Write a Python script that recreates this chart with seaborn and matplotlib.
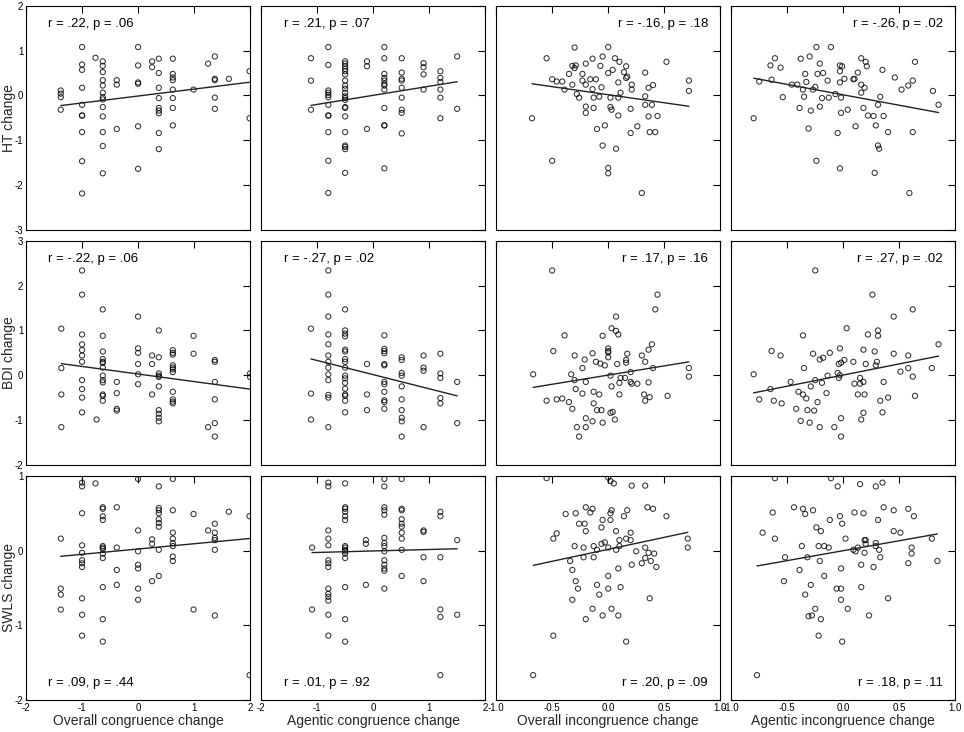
import matplotlib
matplotlib.use("Agg")
import matplotlib.pyplot as plt
import matplotlib.ticker as mticker
import pandas as pd
import seaborn as sns

row_labels = ["HT change", "BDI change", "SWLS change"]
col_labels = ["Overall congruence change", "Agentic congruence change",
              "Overall incongruence change", "Agentic incongruence change"]
stat_labels = [
    ["r = .22, p = .06", "r = .21, p = .07", "r = -.16, p = .18", "r = -.26, p = .02"],
    ["r = -.22, p = .06", "r = -.27, p = .02", "r = .17, p = .16", "r = .27, p = .02"],
    ["r = .09, p = .44", "r = .01, p = .92", "r = .20, p = .09", "r = .18, p = .11"],
]
row_ylims = [(-3, 2), (-2, 3), (-2, 1)]
row_yticks = [[-3, -2, -1, 0, 1, 2], [-2, -1, 0, 1, 2, 3], [-2, -1, 0, 1]]
col_xlims = [(-2, 2), (-2, 2), (-1, 1), (-1, 1)]
col_xticks = [[-2, -1, 0, 1, 2], [-2, -1, 0, 1, 2],
              [-1, -0.5, 0, 0.5, 1], [-1, -0.5, 0, 0.5, 1]]

# ---- HT change ----
ht_oc_x = [-1.38, -1.38, -1.38, -1.38,
           -1.0, -1.0, -1.0, -1.0, -1.0, -1.0, -1.0, -1.0, -1.0, -1.0,
           -0.76,
           -0.63, -0.63, -0.63, -0.63, -0.63, -0.63, -0.63, -0.63, -0.63, -0.63, -0.63, -0.63, -0.63,
           -0.38, -0.38, -0.38,
           0.0, 0.0, 0.0, 0.0, 0.0, 0.0,
           0.25, 0.25,
           0.37, 0.37, 0.37, 0.37, 0.37, 0.37, 0.37, 0.37, 0.37,
           0.62, 0.62, 0.62, 0.62, 0.62, 0.62, 0.62, 0.62,
           0.99, 1.25,
           1.37, 1.37, 1.37, 1.37, 1.37,
           1.62,
           1.99, 1.99]
ht_oc_y = [0.11, 0.04, -0.04, -0.32,
           1.08, 0.69, 0.57, 0.17, -0.21, -0.45, -0.45, -0.82, -1.47, -2.19,
           0.84,
           0.76, 0.66, 0.52, 0.34, 0.22, 0.06, -0.04, -0.09, -0.26, -0.47, -0.82, -1.13, -1.74,
           0.34, 0.24, -0.75,
           1.08, 0.67, 0.29, 0.26, -0.69, -1.64,
           0.76, 0.63,
           0.82, 0.50, 0.17, -0.06, -0.28, -0.34, -0.40, -0.84, -1.20,
           0.82, 0.48, 0.40, 0.34, 0.13, -0.06, -0.28, -0.67,
           0.13, 0.71,
           0.87, 0.37, 0.34, -0.05, -0.30,
           0.37,
           0.54, -0.51]

ht_ac_x = [-1.11, -1.11, -1.11,
           -0.8, -0.8, -0.8, -0.8, -0.8, -0.8, -0.8, -0.8, -0.8, -0.8, -0.8, -0.8,
           -0.5, -0.5, -0.5, -0.5, -0.5, -0.5, -0.5, -0.5, -0.5, -0.5, -0.5,
           -0.5, -0.5, -0.5, -0.5, -0.5, -0.5, -0.5, -0.5, -0.5, -0.5,
           -0.11, -0.11, -0.11,
           0.2, 0.2, 0.2, 0.2, 0.2, 0.2, 0.2, 0.2, 0.2, 0.2, 0.2, 0.2,
           0.51, 0.51, 0.51, 0.51, 0.51, 0.51, 0.51, 0.51, 0.51,
           0.9, 0.9, 0.9, 0.9,
           1.2, 1.2, 1.2, 1.2, 1.2, 1.2,
           1.5, 1.5]
ht_ac_y = [0.83, 0.33, -0.32,
           1.08, 0.68, 0.11, 0.06, 0.01, -0.04, -0.21, -0.45, -0.45, -0.82, -1.46, -2.18,
           0.76, 0.71, 0.65, 0.59, 0.54, 0.47, 0.33, 0.22, 0.15, 0.06, -0.02,
           -0.06, -0.10, -0.26, -0.28, -0.47, -0.82, -1.12, -1.15, -1.20, -1.73,
           0.76, 0.65, -0.75,
           1.08, 0.83, 0.48, 0.39, 0.33, 0.26, 0.22, 0.13, -0.28, -0.67, -0.67, -1.63,
           0.83, 0.51, 0.37, 0.33, 0.17, -0.05, -0.32, -0.39, -0.85,
           0.72, 0.63, 0.47, 0.13,
           0.54, 0.39, 0.30, 0.13, -0.05, -0.51,
           0.87, -0.30]

ht_oi_x = [-0.68, -0.55, -0.50, -0.50, -0.46, -0.41, -0.39, -0.35, -0.32, -0.32,
           -0.30, -0.29, -0.30, -0.28, -0.26, -0.23, -0.23, -0.20, -0.20, -0.20,
           -0.20, -0.16, -0.14, -0.14, -0.13, -0.13, -0.11, -0.10, -0.08, -0.07,
           -0.06, -0.05, -0.05, -0.03, 0.00, 0.00, 0.00, 0.00, 0.02, 0.02,
           0.03, 0.04, 0.06, 0.07, 0.09, 0.09, 0.09, 0.10, 0.11, 0.14,
           0.16, 0.16, 0.17, 0.20, 0.20, 0.21, 0.21, 0.26, 0.33, 0.33,
           0.33, 0.36, 0.36, 0.37, 0.39, 0.40, 0.42, 0.44, 0.52, 0.72,
           0.72, 0.30]
ht_oi_y = [-0.51, 0.83, 0.36, -1.46, 0.31, 0.31, 0.13, 0.48, 0.66, 0.24,
           1.07, 0.67, 0.61, 0.03, -0.05, 0.48, 0.33, -0.25, -0.39, 0.71,
           0.24, 0.36, 0.82, 0.14, -0.05, -0.28, 0.36, -0.75, -0.03, 0.66,
           0.18, 0.87, -1.12, -0.67, 1.08, 0.50, -1.62, -1.74, -0.05, -0.26,
           -0.32, 0.57, 0.83, -1.19, 0.29, -0.45, -0.05, 0.75, 0.06, 0.52,
           0.65, 0.39, 0.42, -0.30, -0.84, 0.13, 0.24, -0.69, 0.51, -0.02,
           -0.21, -0.47, 0.17, -0.82, -0.21, 0.23, -0.82, -0.46, 0.75, 0.33,
           0.10, -2.18]

ht_ai_x = [-0.80, -0.75, -0.65, -0.64, -0.61, -0.56, -0.54, -0.46, -0.41, -0.39,
           -0.38, -0.36, -0.35, -0.34, -0.33, -0.31, -0.30, -0.29, -0.27, -0.25,
           -0.24, -0.24, -0.23, -0.21, -0.21, -0.19, -0.18, -0.14, -0.13, -0.11,
           -0.07, -0.05, -0.03, -0.03, -0.03, -0.03, -0.02, -0.02, -0.01, 0.01,
           0.04, 0.09, 0.10, 0.11, 0.13, 0.16, 0.16, 0.16, 0.18, 0.19,
           0.20, 0.21, 0.22, 0.27, 0.28, 0.29, 0.31, 0.31, 0.32, 0.33,
           0.35, 0.36, 0.40, 0.46, 0.52, 0.58, 0.59, 0.62, 0.62, 0.64,
           0.80, 0.85]
ht_ai_y = [-0.51, 0.31, 0.67, 0.35, 0.83, 0.62, -0.04, 0.24, 0.24, -0.28,
           0.82, 0.13, -0.03, 0.48, 0.30, -0.74, 0.87, -0.34, 0.13, 0.19,
           1.08, -1.46, 0.48, 0.71, -0.25, -0.06, 0.50, 0.33, -0.05, 1.08,
           0.03, -0.84, 0.29, 0.67, 0.54, -1.63, -0.39, -0.05, 0.65, 0.37,
           -0.32, 0.36, 0.37, -0.69, 0.51, 0.24, 0.06, 0.83, -0.28, 0.17,
           0.75, 0.65, -0.45, -0.46, -1.73, -0.67, -0.21, -1.12, -1.19, -0.03,
           0.57, -0.46, -0.82, 0.40, 0.13, 0.22, -2.18, 0.33, -0.82, 0.75,
           0.10, -0.21]

# ---- BDI change ----
bdi_oc_x = [-1.37, -1.37, -1.37, -1.37,
            -1.0, -1.0, -1.0, -1.0, -1.0, -1.0, -1.0, -1.0, -1.0, -1.0, -1.0,
            -0.74,
            -0.63, -0.63, -0.63, -0.63, -0.63, -0.63, -0.63, -0.63, -0.63, -0.63, -0.63, -0.63, -0.63,
            -0.38, -0.38, -0.38, -0.38,
            0.0, 0.0, 0.0, 0.0, 0.0, 0.0,
            0.25, 0.25, 0.25,
            0.37, 0.37, 0.37, 0.37, 0.37, 0.37, 0.37, 0.37, 0.37, 0.37,
            0.62, 0.62, 0.62, 0.62, 0.62, 0.62, 0.62, 0.62, 0.62, 0.62, 0.62,
            0.99, 0.99,
            1.25,
            1.37, 1.37, 1.37, 1.37, 1.37, 1.37,
            2.0, 2.0]
bdi_oc_y = [1.04, 0.16, -0.43, -1.16,
            2.34, 1.80, 0.91, 0.69, 0.56, 0.44, 0.30, -0.11, -0.31, -0.50, -0.83,
            -0.99,
            1.47, 0.88, 0.53, 0.36, 0.30, 0.28, 0.17, -0.01, -0.11, -0.16, -0.43, -0.46, -0.57,
            -0.15, -0.40, -0.75, -0.79,
            1.31, 0.60, 0.50, 0.25, 0.02, -0.20,
            0.44, 0.25, -0.43,
            1.00, 0.40, 0.04, -0.01, -0.04, -0.25, -0.78, -0.86, -0.95, -1.03,
            0.56, 0.50, 0.46, 0.22, 0.17, 0.13, 0.07, -0.37, -0.54, -0.59, -0.63,
            0.88, 0.48,
            -1.16,
            0.34, 0.30, -0.15, -0.54, -1.07, -1.37,
            0.04, -0.04]

bdi_ac_x = [-1.11, -1.11, -1.11,
            -0.8, -0.8, -0.8, -0.8, -0.8, -0.8, -0.8, -0.8, -0.8, -0.8, -0.8, -0.8, -0.8,
            -0.5, -0.5, -0.5, -0.5, -0.5, -0.5, -0.5, -0.5, -0.5,
            -0.5, -0.5, -0.5, -0.5, -0.5, -0.5, -0.5, -0.5,
            -0.11, -0.11, -0.11,
            0.2, 0.2, 0.2, 0.2, 0.2, 0.2, 0.2, 0.2, 0.2, 0.2, 0.2, 0.2,
            0.51, 0.51, 0.51, 0.51, 0.51, 0.51, 0.51, 0.51, 0.51, 0.51,
            0.9, 0.9, 0.9, 0.9,
            1.2, 1.2, 1.2, 1.2, 1.2,
            1.5, 1.5]
bdi_ac_y = [1.04, -0.41, -0.99,
            2.34, 1.80, 1.31, 0.91, 0.69, 0.44, 0.30, 0.17, 0.02, -0.11, -0.44, -0.50, -1.16,
            1.47, 1.00, 0.93, 0.87, 0.57, 0.53, 0.36, 0.30, 0.17,
            -0.01, -0.07, -0.17, -0.30, -0.43, -0.46, -0.57, -0.83,
            0.25, -0.43, -0.78,
            0.89, 0.59, 0.54, 0.49, 0.25, 0.22, -0.15, -0.20, -0.37, -0.56, -0.60, -0.75,
            0.40, 0.34, 0.05, -0.01, -0.25, -0.54, -0.78, -0.95, -1.03, -1.37,
            0.44, 0.17, 0.10, -1.16,
            0.48, 0.04, -0.06, -0.51, -0.63,
            -0.15, -1.07]

bdi_oi_x = [-0.67, -0.55, -0.50, -0.49, -0.46, -0.41, -0.39, -0.35, -0.33, -0.32,
            -0.30, -0.30, -0.29, -0.28, -0.26, -0.23, -0.23, -0.21, -0.20, -0.20,
            -0.20, -0.14, -0.14, -0.13, -0.13, -0.11, -0.10, -0.08, -0.07, -0.06,
            -0.05, -0.05, -0.03, 0.00, 0.00, 0.00, 0.00, 0.02, 0.02, 0.03,
            0.03, 0.04, 0.06, 0.07, 0.07, 0.09, 0.08, 0.10, 0.10, 0.11,
            0.15, 0.16, 0.16, 0.17, 0.20, 0.20, 0.21, 0.26, 0.30, 0.32,
            0.33, 0.33, 0.36, 0.36, 0.37, 0.39, 0.40, 0.42, 0.44, 0.53,
            0.72, 0.72]
bdi_oi_y = [0.02, -0.57, 2.34, 0.54, -0.54, -0.52, 0.89, -0.60, 0.02, -0.75,
            0.44, -0.11, -0.31, -1.16, -1.37, 0.16, -0.41, 0.35, -0.15, -0.96,
            -1.16, 0.49, -1.03, -0.37, -0.63, 0.30, -0.78, -0.43, 0.26, -0.78,
            0.88, -1.06, 0.22, 0.60, 0.54, 0.51, 0.40, -0.01, -0.84, 1.05,
            -0.25, -0.82, -0.99, 1.31, 0.99, 0.91, 0.25, -0.17, -0.43, -0.06,
            -0.06, 0.28, 0.34, 0.48, -0.15, 0.07, -0.19, -0.19, 0.44, -0.43,
            0.30, -0.57, -0.16, 0.57, -0.49, 0.69, 0.16, 1.47, 1.80, -0.46,
            0.16, -0.03]

bdi_ai_x = [-0.80, -0.75, -0.65, -0.64, -0.62, -0.56, -0.55, -0.47, -0.42, -0.40,
            -0.38, -0.36, -0.36, -0.35, -0.33, -0.32, -0.30, -0.29, -0.27, -0.26,
            -0.25, -0.25, -0.23, -0.21, -0.21, -0.19, -0.18, -0.15, -0.14, -0.12,
            -0.08, -0.05, -0.04, -0.04, -0.03, -0.03, -0.02, -0.02, -0.02, 0.01,
            0.03, 0.09, 0.10, 0.13, 0.15, 0.15, 0.16, 0.18, 0.18, 0.18,
            0.19, 0.20, 0.22, 0.26, 0.28, 0.29, 0.30, 0.31, 0.31, 0.33,
            0.35, 0.36, 0.40, 0.45, 0.45, 0.51, 0.58, 0.58, 0.62, 0.62,
            0.64, 0.79, 0.85]
bdi_ai_y = [0.02, -0.54, -0.31, 0.54, -0.57, 0.44, -0.63, -0.15, -0.75, -0.37,
            -1.02, 0.89, -0.43, 0.16, -0.52, -0.78, -1.06, -0.25, 0.48, -0.79,
            2.34, -0.11, -0.60, 0.35, -1.16, -0.17, 0.39, -0.40, -0.01, 0.50,
            -1.16, 0.05, 0.25, -0.06, 0.60, 0.00, 0.28, -0.96, -1.37, 0.34,
            1.05, 0.30, -0.19, -0.43, -0.06, -0.19, -0.99, -0.15, -0.84, 0.57,
            -0.43, 0.25, 0.91, 1.80, 0.53, 0.22, 0.30, 0.88, 1.00, -0.57,
            -0.83, -0.15, -0.50, 0.48, 1.31, 0.08, 0.44, 0.16, -0.03, 1.47,
            -0.46, 0.16, 0.69]

# ---- SWLS change ----
swls_oc_x = [-1.38, -1.38, -1.38, -1.38,
             -1.0, -1.0, -1.0, -1.0, -1.0, -1.0, -1.0, -1.0, -1.0, -1.0, -1.0,
             -0.76,
             -0.63, -0.63, -0.63, -0.63, -0.63, -0.63, -0.63, -0.63, -0.63, -0.63, -0.63, -0.63,
             -0.38, -0.38, -0.38, -0.38,
             0.0, 0.0, 0.0, 0.0, 0.0, 0.0, 0.0,
             0.25, 0.25, 0.25,
             0.37, 0.37, 0.37, 0.37, 0.37, 0.37, 0.37, 0.37, 0.37,
             0.62, 0.62, 0.62, 0.62, 0.62, 0.62, 0.62, 0.62,
             0.99, 0.99,
             1.25,
             1.37, 1.37, 1.37, 1.37, 1.37, 1.37,
             1.62,
             1.99, 1.99]
swls_oc_y = [0.16, -0.51, -0.59, -0.79,
             0.91, 0.86, 0.50, 0.07, -0.03, -0.13, -0.17, -0.22, -0.64, -0.86, -1.14,
             0.90,
             0.58, 0.56, 0.46, 0.41, 0.06, 0.04, 0.02, -0.04, -0.10, -0.49, -0.92, -1.22,
             0.58, 0.04, -0.26, -0.46,
             0.96, 0.27, -0.01, -0.19, -0.24, -0.51, -0.66,
             0.15, 0.09, -0.41,
             0.86, 0.57, 0.54, 0.50, 0.42, 0.37, 0.32, 0.01, -0.34,
             0.96, 0.54, 0.24, 0.16, 0.10, 0.06, -0.08, -0.14,
             0.49, -0.79,
             0.27,
             0.36, 0.24, 0.17, 0.14, 0.01, -0.87,
             0.52,
             0.46, -1.67]

swls_ac_x = [-1.09, -1.09,
             -0.8, -0.8, -0.8, -0.8, -0.8, -0.8, -0.8, -0.8, -0.8, -0.8, -0.8, -0.8, -0.8, -0.8,
             -0.5, -0.5, -0.5, -0.5, -0.5, -0.5, -0.5, -0.5, -0.5, -0.5, -0.5, -0.5, -0.5, -0.5, -0.5,
             -0.13, -0.13, -0.13,
             0.2, 0.2, 0.2, 0.2, 0.2, 0.2, 0.2, 0.2, 0.2, 0.2, 0.2, 0.2, 0.2, 0.2,
             0.51, 0.51, 0.51, 0.51, 0.51, 0.51, 0.51, 0.51, 0.51, 0.51,
             0.9, 0.9, 0.9, 0.9,
             1.2, 1.2, 1.2, 1.2, 1.2, 1.2,
             1.5, 1.5]
swls_ac_y = [0.04, -0.79,
             0.91, 0.86, 0.27, 0.16, 0.07, -0.13, -0.17, -0.22, -0.51, -0.58, -0.62, -0.67, -0.86, -1.14,
             0.90, 0.58, 0.56, 0.52, 0.46, 0.41, 0.06, 0.04, 0.01, -0.01, -0.04, -0.10, -0.49, -0.92, -1.22,
             0.14, 0.09, -0.46,
             0.96, 0.86, 0.58, 0.54, 0.48, 0.17, 0.10, 0.06, -0.01, -0.13, -0.19, -0.24, -0.27, -0.51,
             0.96, 0.56, 0.54, 0.42, 0.36, 0.32, 0.24, 0.16, 0.01, -0.34,
             0.27, 0.25, -0.09, -0.41,
             0.52, 0.46, -0.09, -0.79, -0.89, -1.67,
             0.14, -0.86]

swls_oi_x = [-0.67, -0.49, -0.49, -0.46, -0.38, -0.34, -0.32, -0.32, -0.30, -0.29,
             -0.29, -0.27, -0.26, -0.22, -0.22, -0.21, -0.20, -0.20, -0.20, -0.16,
             -0.14, -0.14, -0.13, -0.13, -0.10, -0.10, -0.08, -0.06, -0.06, -0.05,
             -0.05, -0.03, 0.00, 0.00, 0.00, 0.02, 0.03, 0.02, 0.03, 0.07,
             0.07, 0.09, 0.09, 0.10, 0.10, 0.11, 0.14, 0.16, 0.16, 0.17,
             0.20, 0.20, 0.21, 0.25, 0.30, 0.33, 0.33, 0.35, 0.36, 0.37,
             0.38, 0.40, 0.41, 0.43, 0.52, 0.71, 0.71,
             -0.55, 0.00, 0.02, 0.05, 0.21, 0.33]
swls_oi_y = [-1.67, 0.16, -1.14, 0.23, 0.49, -0.14, -0.26, -0.66, 0.06, -0.41,
             0.50, -0.51, 0.36, 0.04, -0.09, 0.36, 0.26, -0.92, 0.58, 0.51,
             0.56, -0.78, 0.06, -0.09, 0.01, -0.46, -0.59, 0.09, 0.31, 0.41,
             -0.87, 0.11, 0.04, -0.34, -0.51, 0.50, 0.54, 0.41, -0.78, 0.26,
             0.01, -0.24, -0.87, 0.06, 0.14, -0.49, 0.46, -1.22, 0.16, 0.54,
             0.24, 0.14, -0.19, -0.01, -0.17, 0.04, -0.10, 0.58, -0.03, -0.64,
             -0.14, 0.56, -0.04, -0.22, 0.46, 0.16, 0.04,
             0.97, 0.98, 0.93, 0.90, 0.87, 0.87]

swls_ai_x = [-0.77, -0.72, -0.63, -0.61, -0.53, -0.52, -0.44, -0.39, -0.37, -0.36,
             -0.34, -0.34, -0.32, -0.31, -0.29, -0.28, -0.27, -0.25, -0.24, -0.22,
             -0.22, -0.21, -0.20, -0.20, -0.17, -0.17, -0.13, -0.12, -0.06, -0.03,
             -0.02, -0.02, -0.02, -0.01, -0.01, 0.02, 0.04, 0.09, 0.10, 0.11,
             0.13, 0.16, 0.16, 0.18, 0.19, 0.20, 0.19, 0.20, 0.23, 0.27,
             0.29, 0.29, 0.31, 0.32, 0.33, 0.36, 0.40, 0.45, 0.45, 0.51,
             0.58, 0.58, 0.61, 0.61, 0.63, 0.79, 0.84,
             -0.61, -0.11, -0.05, 0.15, 0.29, 0.35]
swls_ai_y = [-1.67, 0.24, 0.51, 0.16, -0.41, -0.09, 0.58, -0.26, 0.06, 0.56,
             0.49, -0.59, -0.09, -0.88, -0.46, -0.87, 0.54, -0.78, 0.31, -1.14,
             0.06, -0.14, 0.26, -0.92, 0.06, -0.34, 0.04, 0.41, -0.51, 0.46,
             -0.24, -0.51, -0.66, 0.36, -1.22, 0.16, -0.78, 0.01, 0.51, -0.01,
             0.04, -0.19, -0.49, 0.50, 0.14, 0.14, -0.03, 0.09, -0.87, -0.22,
             0.10, 0.06, 0.41, 0.01, -0.09, 0.58, -0.64, 0.54, 0.26, 0.24,
             0.56, -0.17, 0.04, -0.04, 0.46, 0.16, -0.14,
             0.97, 0.97, 0.86, 0.89, 0.86, 0.91]

panels = [
    [(ht_oc_x, ht_oc_y), (ht_ac_x, ht_ac_y), (ht_oi_x, ht_oi_y), (ht_ai_x, ht_ai_y)],
    [(bdi_oc_x, bdi_oc_y), (bdi_ac_x, bdi_ac_y), (bdi_oi_x, bdi_oi_y), (bdi_ai_x, bdi_ai_y)],
    [(swls_oc_x, swls_oc_y), (swls_ac_x, swls_ac_y), (swls_oi_x, swls_oi_y), (swls_ai_x, swls_ai_y)],
]

sns.set_style("white")
plt.rcParams["font.family"] = ["Liberation Sans", "DejaVu Sans"]
plt.rcParams["axes.unicode_minus"] = False

fig, axes = plt.subplots(3, 4, figsize=(9.64, 7.32), dpi=100, sharex="col", sharey="row")
fig.subplots_adjust(left=0.027, right=0.991, bottom=0.044, top=0.992, wspace=0.049, hspace=0.05)

for i in range(3):
    for j in range(4):
        ax = axes[i, j]
        x, y = panels[i][j]
        df = pd.DataFrame({"x": x, "y": y})
        sns.regplot(data=df, x="x", y="y", ax=ax, ci=None, color="black",
                    scatter_kws=dict(s=14, facecolors="none", linewidths=0.75),
                    line_kws=dict(color="#222222", linewidth=1.0))
        ax.set_xlim(col_xlims[j])
        ax.set_ylim(row_ylims[i])
        ax.set_xticks(col_xticks[j])
        ax.set_yticks(row_yticks[i])
        if j >= 2:
            ax.xaxis.set_major_formatter(mticker.FormatStrFormatter("%.1f"))
        ax.tick_params(direction="in", top=True, right=True, length=5, width=0.8,
                       labelsize=7, pad=2, colors="black")
        for sp in ax.spines.values():
            sp.set_color("black")
            sp.set_linewidth(0.8)
        ax.set_ylabel(row_labels[i] if j == 0 else "", fontsize=10)
        ax.yaxis.set_label_coords(-0.045, 0.5)
        ax.set_xlabel(col_labels[j] if i == 2 else "", fontsize=10, labelpad=1)

        # position of the correlation text
        tx = 0.1 if j < 2 else 0.945
        ty = 0.076 if i == 2 else 0.92
        ax.text(tx, ty, stat_labels[i][j], transform=ax.transAxes, fontsize=9.5,
                ha="left" if j < 2 else "right", va="center", color="black")

fig.savefig("out.png", dpi=100)
